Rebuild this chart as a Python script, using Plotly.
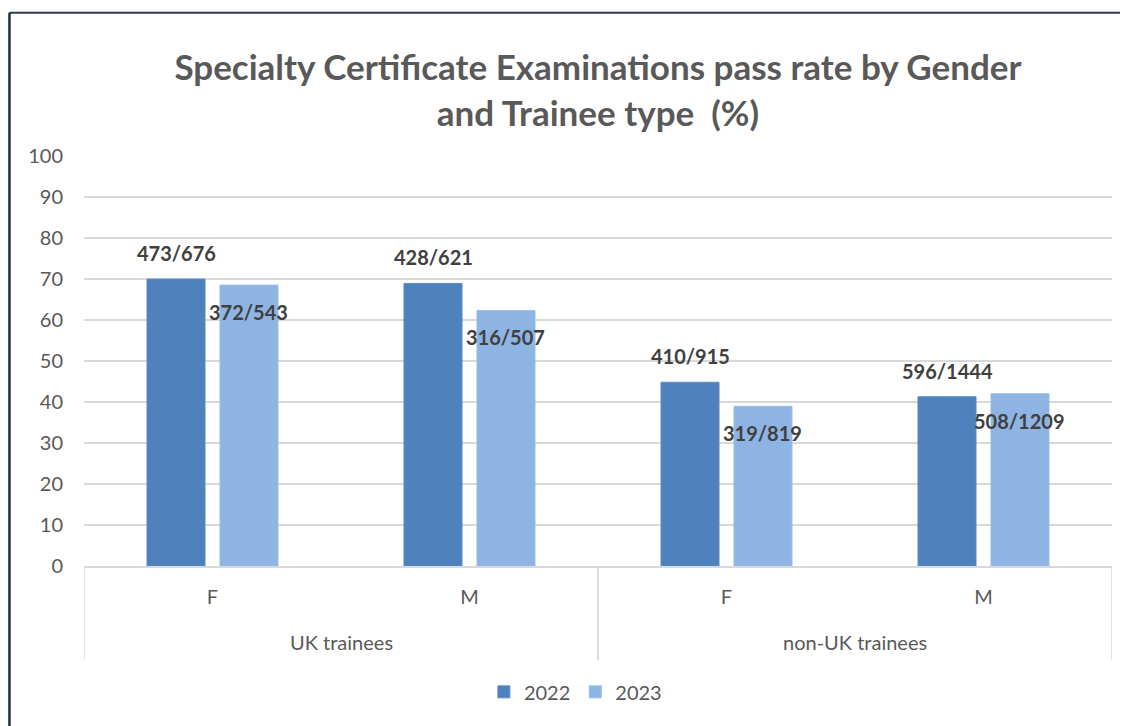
import plotly.graph_objects as go

# ---- data ----
groups = ["UK trainees", "UK trainees", "non-UK trainees", "non-UK trainees"]
genders = ["F", "M", "F", "M"]
passed_2022 = [473, 428, 410, 596]
total_2022 = [676, 621, 915, 1444]
passed_2023 = [372, 316, 319, 508]
total_2023 = [543, 507, 819, 1209]
y_ticks = [0, 10, 20, 30, 40, 50, 60, 70, 80, 90, 100]

rate_2022 = [p / t * 100 for p, t in zip(passed_2022, total_2022)]
rate_2023 = [p / t * 100 for p, t in zip(passed_2023, total_2023)]
labels_2022 = [f"{p}/{t}" for p, t in zip(passed_2022, total_2022)]
labels_2023 = [f"{p}/{t}" for p, t in zip(passed_2023, total_2023)]
keys = [f"{g}|{s}" for g, s in zip(groups, genders)]

FONT = "Lato"
GREY = "#595959"
C2022 = "#4F81BD"
C2023 = "#8EB4E3"
BARGAP = 0.432

fig = go.Figure()
fig.add_trace(go.Bar(name="2022", x=keys, y=rate_2022, marker=dict(color=C2022, line=dict(color="#5B8BC6", width=1))))
fig.add_trace(go.Bar(name="2023", x=keys, y=rate_2023, marker=dict(color=C2023, line=dict(color="#9ABDE6", width=1))))

ann = []
slot = (1 - BARGAP) / 2
for i, (v, lab) in enumerate(zip(rate_2022, labels_2022)):
    ann.append(dict(x=i - slot / 2, y=v, xref="x", yref="y", text=f"<b>{lab}</b>", showarrow=False,
                    yanchor="middle", yshift=26, font=dict(family=FONT, size=20, color="#404040")))
for i, (v, lab) in enumerate(zip(rate_2023, labels_2023)):
    ann.append(dict(x=i + slot / 2, y=v, xref="x", yref="y", text=f"<b>{lab}</b>", showarrow=False,
                    yanchor="middle", yshift=-27, font=dict(family=FONT, size=20, color="#404040")))

# group labels under the category labels
uniq = []
for g in groups:
    if g not in uniq:
        uniq.append(g)
shapes = []
for g in uniq:
    idx = [i for i, gg in enumerate(groups) if gg == g]
    ann.append(dict(x=sum(idx) / len(idx), y=-0.185, xref="x", yref="paper", text=g, showarrow=False,
                    yanchor="middle", font=dict(family=FONT, size=20, color=GREY)))
    for b in (min(idx) - 0.5, max(idx) + 0.5):
        shapes.append(dict(type="line", xref="x", yref="paper", x0=b, x1=b, y0=0, y1=-0.229,
                           line=dict(color="#D9D9D9", width=1.5)))

# outer frame (left and top edges)
shapes.append(dict(type="line", xref="paper", yref="paper", x0=-0.0725, x1=1.05, y0=1.3495, y1=1.3495,
                   line=dict(color="#2B3A55", width=2)))
shapes.append(dict(type="line", xref="paper", yref="paper", x0=-0.0725, x1=-0.0725, y0=1.3495, y1=-0.45,
                   line=dict(color="#1F2D4A", width=2.5)))

fig.update_layout(
    width=1120, height=718,
    margin=dict(l=76, r=16, t=148, b=160),
    paper_bgcolor="white", plot_bgcolor="white",
    barmode="group", bargap=BARGAP, bargroupgap=0.205,
    font=dict(family=FONT, color=GREY, size=20),
    title=dict(text="Specialty Certificate Examinations pass rate by Gender<br>and Trainee type  (%)",
               x=0.5, xref="paper", xanchor="center", y=1 - 72 / 718, yref="container", yanchor="middle",
               font=dict(family=FONT, size=35, color=GREY, weight="bold")),
    legend=dict(orientation="h", x=0.478, xanchor="center", y=-0.307, yanchor="middle",
                font=dict(family=FONT, size=20, color=GREY), traceorder="normal", itemwidth=30),
    annotations=ann,
    shapes=shapes,
    showlegend=True,
)
fig.update_xaxes(type="category", tickvals=keys, ticktext=genders, showgrid=False, showline=True,
                 linecolor="#D9D9D9", linewidth=1.5, ticks="", ticklabelstandoff=12,
                 tickfont=dict(family=FONT, size=20, color=GREY), range=[-0.5, 3.5])
fig.update_yaxes(range=[0, 100], tickvals=y_ticks, showgrid=True, gridcolor="#D9D9D9", gridwidth=1.5,
                 zeroline=False, showline=False, ticks="", ticklabelstandoff=20,
                 tickfont=dict(family=FONT, size=20, color=GREY))

fig.write_html("out.html")
